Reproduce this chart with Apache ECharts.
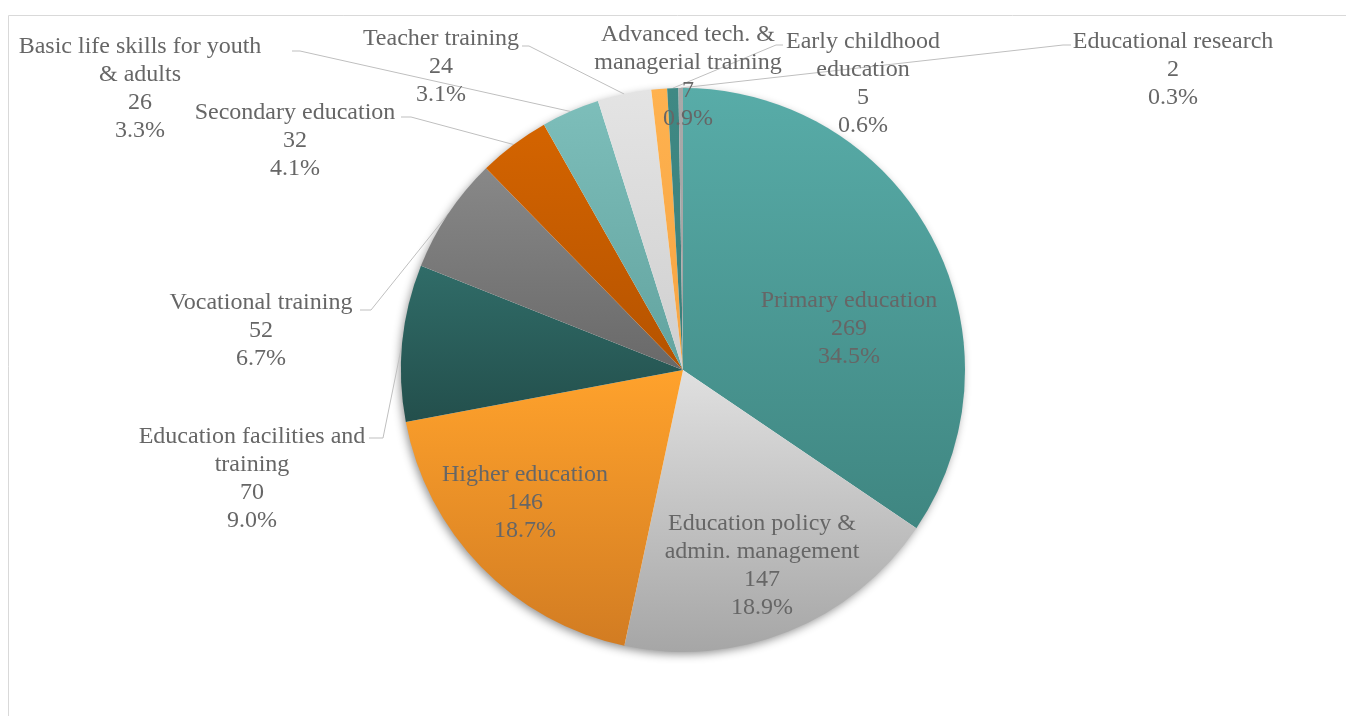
<!DOCTYPE html>
<html>
<head>
<meta charset="utf-8">
<script src="https://cdn.jsdelivr.net/npm/echarts@6/dist/echarts.min.js"></script>
<style>
  html, body { margin: 0; padding: 0; background: #fff; }
  #chart { width: 1346px; height: 716px; }
</style>
</head>
<body>
<div id="chart"></div>
<script>
// data, clockwise from 12 o'clock
const categories = [
  'Primary education',
  'Education policy &\nadmin. management',
  'Higher education',
  'Education facilities and\ntraining',
  'Vocational training',
  'Secondary education',
  'Basic life skills for youth\n& adults',
  'Teacher training',
  'Advanced tech. &\nmanagerial training',
  'Early childhood\neducation',
  'Educational research'
];
const values = [269, 147, 146, 70, 52, 32, 26, 24, 7, 5, 2];
const percentLabels = ['34.5%', '18.9%', '18.7%', '9.0%', '6.7%', '4.1%', '3.3%', '3.1%', '0.9%', '0.6%', '0.3%'];

// vertical gradient per slice: [top, bottom]
const sliceColors = [
  ['#58aca8', '#3f8681'],
  ['#e0e0e0', '#a6a6a6'],
  ['#ffa22c', '#d27c22'],
  ['#306c68', '#234f4c'],
  ['#888888', '#696969'],
  ['#d46400', '#b55300'],
  ['#7dbeba', '#62a39f'],
  ['#e4e4e4', '#cfcfcf'],
  ['#ffb24f', '#f5a443'],
  ['#3f8984', '#3a7f7a'],
  ['#a9a9a9', '#a3a3a3']
];

// where each label sits (center-top of text block) and its leader line bend
const labelSpots = [
  { x: 849, y: 287, inside: true },
  { x: 762, y: 510, inside: true },
  { x: 525, y: 461, inside: true },
  { x: 252, y: 423, elbow: [383, 438], end: [369, 438] },
  { x: 261, y: 289, elbow: [371, 310], end: [360, 310] },
  { x: 295, y: 99, elbow: [411, 117], end: [401, 117] },
  { x: 140, y: 33, elbow: [300, 51], end: [292, 51] },
  { x: 441, y: 25, elbow: [529, 46], end: [522, 46] },
  { x: 688, y: 21, noLine: true },
  { x: 863, y: 28, elbow: [776, 45], end: [783, 45] },
  { x: 1173, y: 28, elbow: [1063, 45], end: [1071, 45] }
];

const total = values.reduce((a, b) => a + b, 0);
const fontFamily = '"Liberation Serif", "Times New Roman", serif';

const pieData = categories.map((name, i) => ({
  name: name,
  value: values[i],
  itemStyle: {
    color: new echarts.graphic.LinearGradient(0, 0, 0, 1, [
      { offset: 0, color: sliceColors[i][0] },
      { offset: 1, color: sliceColors[i][1] }
    ])
  },
  label: { position: labelSpots[i].inside ? 'inside' : 'outside' },
  labelLine: { show: !labelSpots[i].inside && !labelSpots[i].noLine }
}));

const chart = echarts.init(document.getElementById('chart'));

chart.setOption({
  animation: false,
  graphic: [{
    type: 'rect',
    shape: { x: 8.5, y: 15.5, width: 1500, height: 900 },
    style: { fill: 'none', stroke: '#d9d9d9', lineWidth: 1 },
    silent: true
  }],
  series: [
    {
      // soft drop shadow under the whole pie
      type: 'pie',
      silent: true,
      z: 1,
      center: [683, 370],
      radius: 281,
      startAngle: 90,
      label: { show: false },
      labelLine: { show: false },
      itemStyle: {
        color: '#ffffff',
        shadowBlur: 10,
        shadowColor: 'rgba(0,0,0,0.45)',
        shadowOffsetX: -2,
        shadowOffsetY: 3
      },
      data: [{ name: 'all', value: total }]
    },
    {
      type: 'pie',
      z: 2,
      center: [683, 370],
      radius: 282,
      startAngle: 90,
      clockwise: true,
      avoidLabelOverlap: false,
      itemStyle: { borderWidth: 0 },
      label: {
        show: true,
        color: '#666666',
        fontFamily: fontFamily,
        fontSize: 24,
        lineHeight: 28,
        align: 'center',
        overflow: 'none',
        formatter: (p) => p.name + '\n' + p.value + '\n' + percentLabels[p.dataIndex]
      },
      labelLine: {
        lineStyle: { color: '#bfbfbf', width: 1 }
      },
      labelLayout: function (params) {
        const s = labelSpots[params.dataIndex];
        const out = { x: s.x, y: s.y, align: 'center', verticalAlign: 'top' };
        if (s.elbow && params.labelLinePoints) {
          out.labelLinePoints = [params.labelLinePoints[0], s.elbow, s.end];
        }
        return out;
      },
      data: pieData
    }
  ]
});
</script>
</body>
</html>
